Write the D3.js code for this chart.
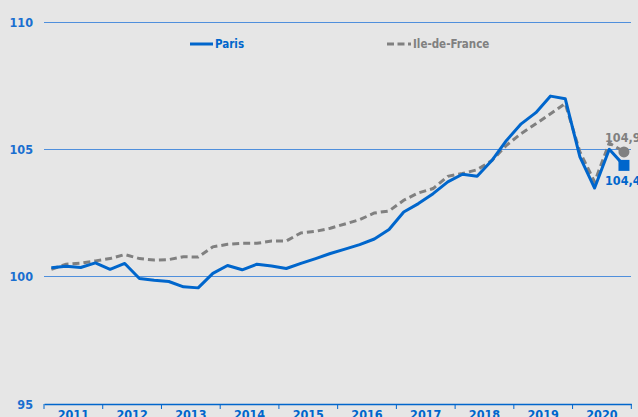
<!DOCTYPE html>
<html><head><meta charset="utf-8">
<script src="https://cdn.jsdelivr.net/npm/d3@7"></script>
<style>
html,body{margin:0;padding:0;background:#e6e6e6;}
svg{display:block;}
</style></head>
<body>
<script>
const years = ["2011","2012","2013","2014","2015","2016","2017","2018","2019","2020"];
const quarters = years.flatMap(y => ["T1","T2","T3","T4"].map(q => y + q));
const paris = [100.35,100.41,100.36,100.54,100.29,100.52,99.93,99.86,99.81,99.6,
  99.56,100.13,100.44,100.27,100.49,100.42,100.32,100.52,100.71,100.91,
  101.08,101.26,101.48,101.85,102.54,102.87,103.26,103.72,104.02,103.94,
  104.56,105.35,106.0,106.44,107.09,106.99,104.7,103.48,105.0,104.37];
const idf = [100.29,100.49,100.53,100.62,100.71,100.87,100.71,100.65,100.67,100.78,
  100.77,101.17,101.27,101.31,101.31,101.4,101.4,101.72,101.78,101.9,
  102.07,102.24,102.5,102.58,103.0,103.29,103.46,103.94,104.05,104.2,
  104.56,105.16,105.62,106.0,106.4,106.8,104.9,103.72,105.25,104.9];
const yTicks = [95,100,105,110];
const seriesNames = ["Paris","Ile-de-France"];
const endLabels = ["104,4","104,9"];

const W = 638, H = 417;
const blue = "#0066cc", gray = "#808080", gridC = "#4f8fdc";
const svg = d3.select("body").append("svg").attr("width", W).attr("height", H)
  .style("font-family", "'DejaVu Sans Condensed','DejaVu Sans',sans-serif");

const x = d3.scaleLinear().domain([0, quarters.length]).range([44, 631.3]);
const y = d3.scaleLinear().domain([95, 110]).range([404, 22]);

// gridlines
svg.append("g").selectAll("line").data(yTicks.filter(t => t > 95)).join("line")
  .attr("x1", x(0)).attr("x2", x(quarters.length))
  .attr("y1", d => y(d)).attr("y2", d => y(d))
  .attr("stroke", gridC).attr("stroke-width", 1).attr("shape-rendering","crispEdges");

// y labels
svg.append("g").selectAll("text").data(yTicks).join("text")
  .attr("x", 33).attr("y", d => y(d)).attr("dy", "0.36em")
  .attr("text-anchor", "end").attr("fill", "#1a6fd0")
  .attr("font-weight", "bold").attr("font-size", 12.5).text(d => d);

// x axis
const xb = d3.scaleBand().domain(years).range([x(0), x(quarters.length)]);
const xAxis = d3.axisBottom(xb).tickSize(0).tickPadding(6);
const ax = svg.append("g").attr("transform", `translate(0,${y(95)})`).call(xAxis);
ax.select(".domain").attr("stroke", blue).attr("stroke-width", 1.5);
ax.selectAll("text").attr("fill", blue).attr("font-weight", "bold").attr("font-size", 12.5)
  .attr("font-family", "'DejaVu Sans Condensed','DejaVu Sans',sans-serif");
svg.append("g").selectAll("line").data(d3.range(0, quarters.length + 1, 4)).join("line")
  .attr("x1", d => x(d)).attr("x2", d => x(d))
  .attr("y1", y(95)).attr("y2", y(95) + 5)
  .attr("stroke", blue).attr("stroke-width", 1);

const line = d3.line().x((d, i) => x(i + 0.5)).y(d => y(d));

svg.append("path").datum(idf).attr("d", line).attr("fill", "none")
  .attr("stroke", gray).attr("stroke-width", 3).attr("stroke-dasharray", "7,4");
svg.append("path").datum(paris).attr("d", line).attr("fill", "none")
  .attr("stroke", blue).attr("stroke-width", 3).attr("stroke-linejoin", "round");

// end markers
const n = quarters.length - 1;
svg.append("circle").attr("cx", x(n + 0.5)).attr("cy", y(idf[n])).attr("r", 5.5).attr("fill", gray);
svg.append("rect").attr("x", x(n + 0.5) - 5.5).attr("y", y(paris[n]) - 5.5)
  .attr("width", 11).attr("height", 11).attr("fill", blue);
svg.append("text").attr("x", 605).attr("y", y(idf[n]) - 10).attr("fill", gray)
  .attr("font-weight", "bold").attr("font-size", 12.5).text(endLabels[1]);
svg.append("text").attr("x", 605).attr("y", y(paris[n]) + 20).attr("fill", blue)
  .attr("font-weight", "bold").attr("font-size", 12.5).text(endLabels[0]);

// legend
const leg = svg.append("g");
leg.append("line").attr("x1", 190).attr("x2", 213).attr("y1", 44).attr("y2", 44)
  .attr("stroke", blue).attr("stroke-width", 3);
leg.append("text").attr("x", 215).attr("y", 44).attr("dy", "0.36em").attr("fill", blue)
  .attr("font-weight", "bold").attr("font-size", 11.5).text(seriesNames[0]);
leg.append("line").attr("x1", 387).attr("x2", 411).attr("y1", 44).attr("y2", 44)
  .attr("stroke", gray).attr("stroke-width", 3).attr("stroke-dasharray", "7,3.5");
leg.append("text").attr("x", 413).attr("y", 44).attr("dy", "0.36em").attr("fill", gray)
  .attr("font-weight", "bold").attr("font-size", 11.5).text(seriesNames[1]);
</script>
</body></html>
